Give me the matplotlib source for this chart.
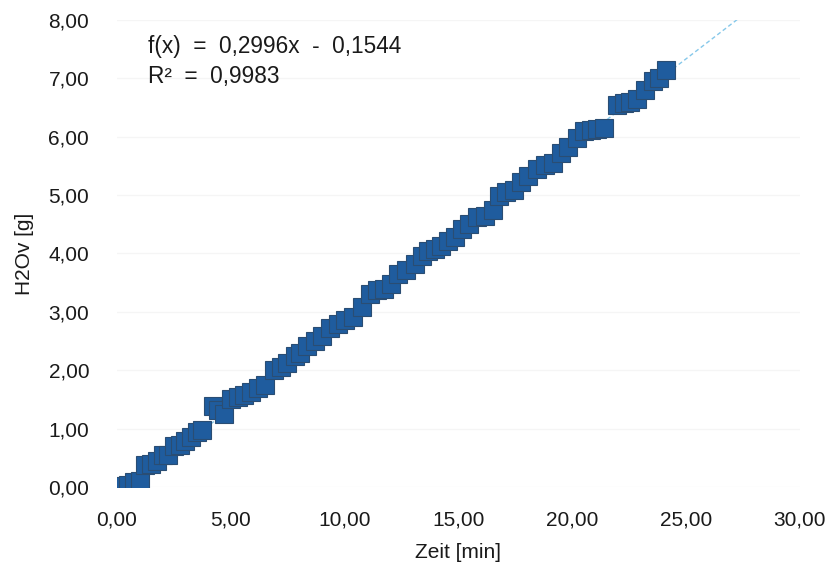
import numpy as np
import matplotlib.pyplot as plt

plt.rcParams['font.family'] = ['Liberation Sans', 'DejaVu Sans']

# time [min] and H2Ov [g]
zeit = [0.0, 0.25, 0.5, 0.75, 1.0, 1.25, 1.5, 1.75, 2.0, 2.25, 2.5, 2.75,
        3.0, 3.25, 3.5, 3.75, 4.2, 4.45, 4.7, 5.0, 5.3, 5.6, 5.9, 6.2, 6.5,
        6.9, 7.2, 7.45, 7.8, 8.05, 8.35, 8.7, 9.0, 9.35, 9.7, 10.0, 10.35,
        10.75, 11.1, 11.4, 11.75, 12.05, 12.35, 12.7, 13.1, 13.4, 13.65,
        13.95, 14.25, 14.55, 14.85, 15.15, 15.45, 15.8, 16.15, 16.5, 16.8,
        17.1, 17.45, 17.75, 18.05, 18.45, 18.8, 19.15, 19.5, 19.8, 20.2,
        20.5, 20.8, 21.1, 21.4, 21.95, 22.25, 22.55, 22.85, 23.2, 23.55,
        23.8, 24.1]
h2ov = [0.00, 0.02, 0.04, 0.08, 0.10, 0.38, 0.40, 0.45, 0.55, 0.55, 0.70, 0.72,
        0.78, 0.85, 0.95, 0.98, 1.38, 1.32, 1.25, 1.50, 1.55, 1.58, 1.62, 1.70, 1.75,
        2.00, 2.05, 2.12, 2.25, 2.30, 2.42, 2.50, 2.58, 2.72, 2.80, 2.86, 2.92,
        3.08, 3.30, 3.37, 3.40, 3.48, 3.65, 3.72, 3.82, 3.95, 4.05,
        4.08, 4.12, 4.22, 4.28, 4.42, 4.50, 4.62, 4.65, 4.75, 4.98,
        5.06, 5.08, 5.22, 5.32, 5.45, 5.52, 5.55, 5.72, 5.83, 5.98,
        6.10, 6.12, 6.14, 6.15, 6.55, 6.57, 6.60, 6.65, 6.80, 6.95,
        7.00, 7.15]

# trendline as printed on the chart
slope, intercept = 0.2996, -0.1544
trend_x = [0.0, 27.4]

fig = plt.figure(figsize=(8.32, 5.83), dpi=100)
ax = fig.add_axes([0.1406, 0.1647, 0.8209, 0.801])

tx = np.array(trend_x)
ax.plot(tx, slope * tx + intercept, color='#86c8ea', lw=1.0, ls=(0, (3, 2)), zorder=2)
ax.plot(zeit, h2ov, ls='none', marker='s', ms=13.5, mfc='#1f5c9e',
        mec='#2a4d73', mew=0.8, zorder=3)

ax.set_xlim(0, 30)
ax.set_ylim(0, 8)
ax.set_xticks(np.arange(0, 31, 5))
ax.set_yticks(np.arange(0, 9, 1))
ax.set_xticklabels([f"{v:.2f}".replace('.', ',') for v in np.arange(0, 31, 5)])
ax.set_yticklabels([f"{v:.2f}".replace('.', ',') for v in np.arange(0, 9, 1)])
ax.tick_params(axis='both', length=0, labelsize=15, colors='#1a1a1a')
ax.tick_params(axis='y', pad=20)
ax.tick_params(axis='x', pad=17)
for s in ax.spines.values():
    s.set_visible(False)
ax.grid(axis='y', color='#f5f5f5', lw=1)
ax.set_axisbelow(True)

ax.set_xlabel('Zeit [min]', fontsize=15, color='#1a1a1a', labelpad=10)
ax.set_ylabel('H2Ov [g]', fontsize=15, color='#1a1a1a', labelpad=10)

ax.text(1.35, 7.55, 'f(x)  =  0,2996x  -  0,1544', fontsize=16.3, color='#1a1a1a',
        va='center')
ax.text(1.35, 7.03, 'R²  =  0,9983', fontsize=16.3, color='#1a1a1a', va='center')

fig.savefig('out.png', dpi=100)
